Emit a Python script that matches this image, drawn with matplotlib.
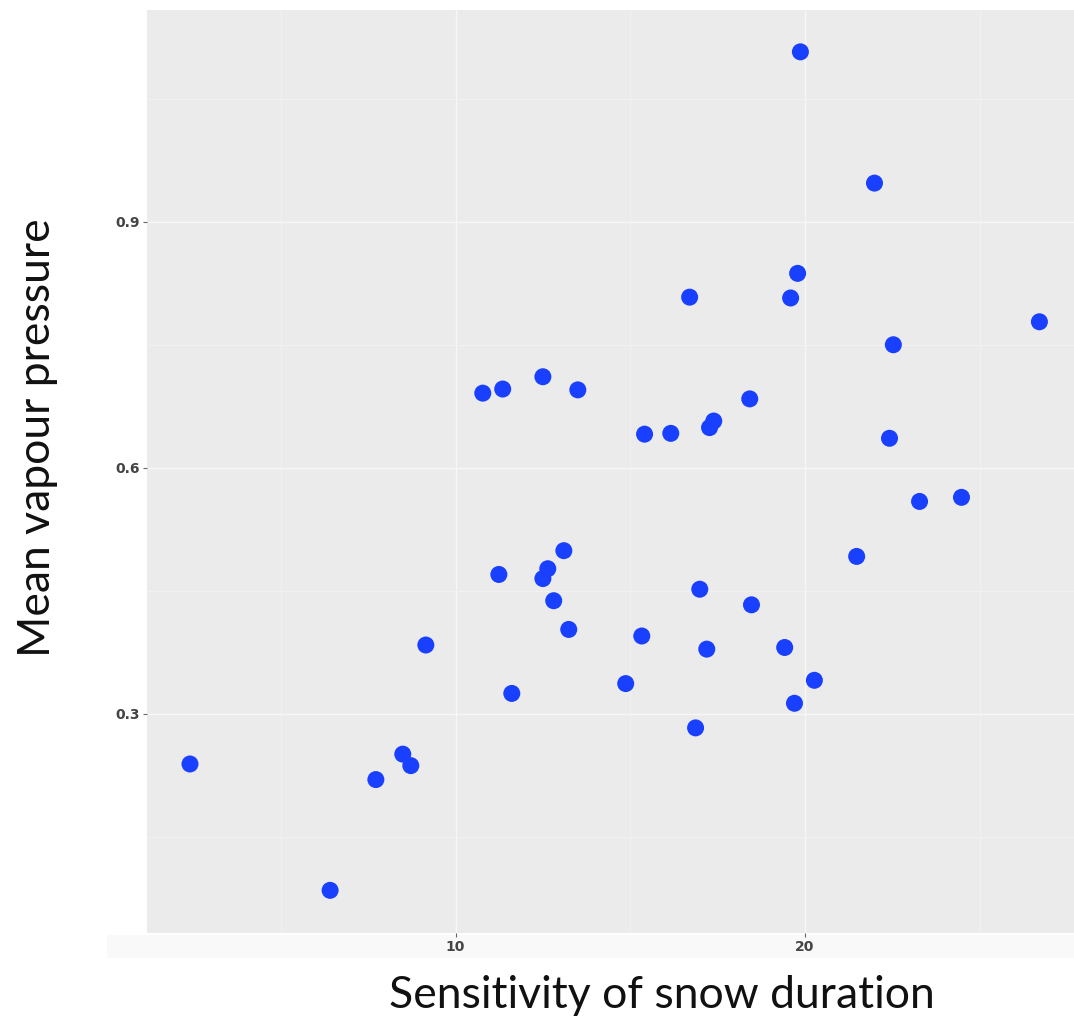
import matplotlib.pyplot as plt
from matplotlib.patches import Rectangle
from matplotlib.ticker import FixedLocator

# sensitivity of snow duration vs mean vapour pressure, one point per site
sensitivity = [
    19.87, 21.99, 19.79, 16.70, 19.59, 26.71, 22.53, 12.50, 10.78, 11.35,
    13.50, 18.42, 15.41, 16.16, 17.39, 17.27, 22.42, 23.28, 24.48, 21.48,
    13.10, 12.64, 12.50, 11.24, 12.81, 16.99, 18.47, 13.24, 15.33, 9.15,
    17.19, 19.42, 14.87, 11.61, 20.27, 19.70, 16.87, 2.40, 8.49, 8.72,
    7.72, 6.41,
]
vapour_pressure = [
    1.107, 0.947, 0.837, 0.808, 0.807, 0.778, 0.750, 0.711, 0.691, 0.696,
    0.695, 0.684, 0.641, 0.642, 0.657, 0.649, 0.636, 0.559, 0.564, 0.492,
    0.499, 0.477, 0.465, 0.470, 0.438, 0.452, 0.433, 0.403, 0.395, 0.384,
    0.379, 0.381, 0.337, 0.325, 0.341, 0.313, 0.283, 0.239, 0.251, 0.237,
    0.220, 0.085,
]

x_major = [10, 20]
x_minor = [5, 15, 25]
y_major = [0.3, 0.6, 0.9]
y_minor = [0.15, 0.45, 0.75, 1.05]
y_tick_labels = ["0.3", "0.6", "0.9"]

fig = plt.figure(figsize=(10.74, 10.17), dpi=100)
fig.patch.set_facecolor("white")

# pale band under the panel that holds the x tick labels
fig.patches.append(Rectangle((107 / 1074, 1 - 958 / 1017), 1 - 107 / 1074, 23 / 1017,
                             transform=fig.transFigure, facecolor="#f9f9f9",
                             edgecolor="none", zorder=-1))

ax = fig.add_axes([147 / 1074, 1 - 933 / 1017, 1 - 147 / 1074, 923 / 1017])
ax.set_facecolor("#ebebeb")
for spine in ax.spines.values():
    spine.set_visible(False)

ax.set_xlim(1.17, 27.7)
ax.set_ylim(0.033, 1.158)

ax.xaxis.set_major_locator(FixedLocator(x_major))
ax.xaxis.set_minor_locator(FixedLocator(x_minor))
ax.yaxis.set_major_locator(FixedLocator(y_major))
ax.yaxis.set_minor_locator(FixedLocator(y_minor))
ax.set_yticklabels(y_tick_labels)

ax.grid(which="major", color="#f7f7f7", linewidth=1.0)
ax.grid(which="minor", color="#f1f1f1", linewidth=0.8)
ax.set_axisbelow(True)

ax.tick_params(which="major", length=3, width=0.8, color="#666666",
               labelsize=10, labelcolor="#444444", pad=2)
ax.tick_params(which="minor", length=0)
for label in ax.get_xticklabels() + ax.get_yticklabels():
    label.set_fontweight("bold")

ax.scatter(sensitivity, vapour_pressure, s=150, color="#1a40ff",
           edgecolors="none", zorder=3)

fig.text(662 / 1074, 1 - 995 / 1017, "Sensitivity of snow duration",
         ha="center", va="center", fontsize=32, family="Lato", color="#111111")
fig.text(38 / 1074, 1 - 438 / 1017, "Mean vapour pressure",
         ha="center", va="center", rotation=90, fontsize=32, family="Lato",
         color="#111111")

fig.savefig("out.png", dpi=100)
